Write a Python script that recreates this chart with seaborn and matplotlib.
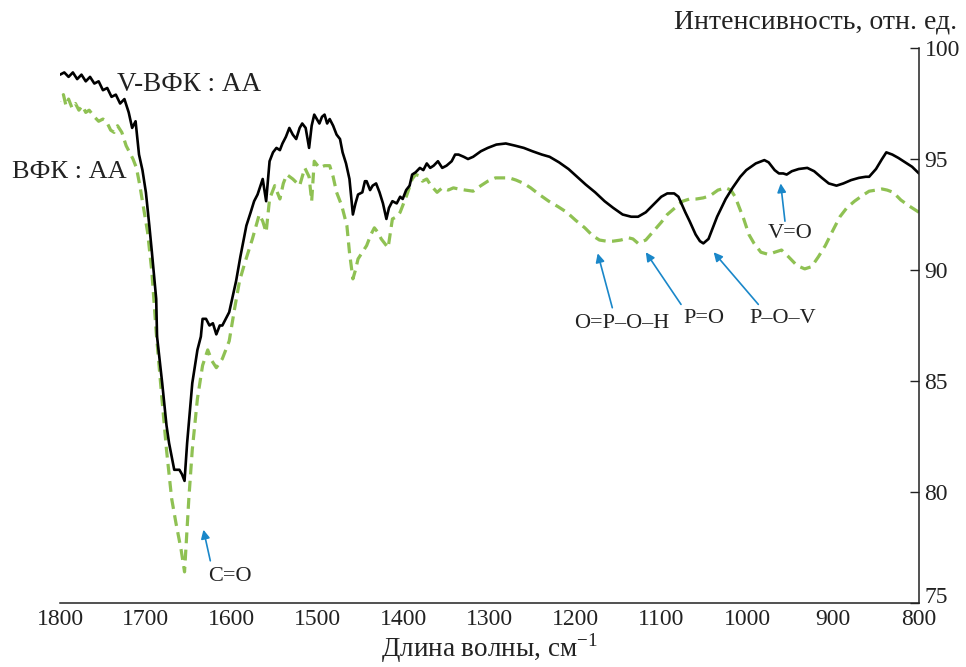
import numpy as np
import pandas as pd
import seaborn as sns
import matplotlib.pyplot as plt
import matplotlib.transforms as mtransforms

# --- 1. Dati ---
# V-ВФК : АА (linea nera)
wn_v = [1800, 1795, 1790, 1785, 1780, 1775, 1770, 1765, 1760, 1755, 1750, 1745, 1740, 1735, 1730,
        1725, 1720, 1716, 1712, 1708, 1704, 1700, 1696, 1693, 1688, 1687, 1681, 1676, 1673, 1667,
        1661, 1658, 1655, 1652, 1646, 1640, 1636, 1634, 1630, 1626, 1622, 1618, 1614, 1611, 1603,
        1595, 1590, 1583, 1578, 1574, 1570, 1564, 1560, 1556, 1552, 1548, 1544, 1541, 1537, 1533,
        1529, 1525, 1521, 1518, 1514, 1510, 1507, 1504, 1501, 1498, 1495, 1492, 1489, 1486, 1482,
        1478, 1474, 1471, 1467, 1463, 1459, 1456, 1453, 1448, 1445, 1443, 1439, 1436, 1432, 1428,
        1424, 1420, 1417, 1413, 1408, 1404, 1401, 1397, 1393, 1390, 1386, 1381, 1377, 1373, 1369,
        1365, 1360, 1355, 1350, 1344, 1340, 1336, 1330, 1325, 1319, 1310, 1302, 1292, 1281, 1270,
        1260, 1250, 1239, 1230, 1219, 1208, 1198, 1188, 1177, 1166, 1156, 1145, 1135, 1127, 1118,
        1109, 1100, 1093, 1085, 1080, 1072, 1067, 1060, 1055, 1051, 1045, 1040, 1035, 1025, 1017,
        1008, 1001, 990, 980, 975, 968, 963, 958, 954, 948, 940, 930, 922, 913, 905,
        896, 888, 879, 870, 862, 858, 850, 843, 838, 831, 824, 816, 808, 800]
int_v = [98.8, 98.9, 98.7, 98.9, 98.6, 98.8, 98.5, 98.7, 98.4, 98.5, 98.1, 98.2, 97.8, 97.9, 97.5,
         97.7, 97.1, 96.4, 96.7, 95.2, 94.5, 93.5, 92.0, 90.8, 88.7, 87.0, 84.9, 83.0, 82.2, 81.0,
         81.0, 80.8, 80.5, 82.2, 84.9, 86.4, 87.0, 87.8, 87.8, 87.5, 87.6, 87.1, 87.5, 87.5, 88.1,
         89.5, 90.6, 92.0, 92.6, 93.1, 93.4, 94.1, 93.1, 94.9, 95.3, 95.5, 95.4, 95.7, 96.0, 96.4,
         96.1, 95.9, 96.4, 96.6, 96.4, 95.5, 96.5, 97.0, 96.8, 96.6, 96.9, 97.0, 96.6, 96.8, 96.5,
         96.1, 95.9, 95.3, 94.8, 94.1, 92.5, 93.0, 93.4, 93.5, 94.0, 94.0, 93.6, 93.8, 93.9, 93.5,
         93.0, 92.3, 92.8, 93.1, 93.0, 93.3, 93.2, 93.6, 93.8, 94.3, 94.4, 94.6, 94.5, 94.8, 94.6,
         94.7, 94.9, 94.6, 94.7, 94.9, 95.2, 95.2, 95.1, 95.0, 95.1, 95.35, 95.5, 95.65, 95.7, 95.6,
         95.5, 95.35, 95.2, 95.1, 94.85, 94.55, 94.2, 93.85, 93.5, 93.1, 92.8, 92.5, 92.4, 92.4, 92.6,
         92.95, 93.3, 93.45, 93.45, 93.3, 92.6, 92.2, 91.6, 91.3, 91.2, 91.4, 91.9, 92.4, 93.2, 93.7,
         94.2, 94.5, 94.8, 94.95, 94.85, 94.5, 94.35, 94.35, 94.3, 94.45, 94.55, 94.6, 94.45, 94.15, 93.9,
         93.8, 93.9, 94.05, 94.15, 94.2, 94.2, 94.55, 95.0, 95.3, 95.2, 95.05, 94.85, 94.65, 94.35]

# ВФК : АА (linea verde tratteggiata)
wn_b = [1800, 1796, 1793, 1790, 1786, 1782, 1778, 1774, 1770, 1766, 1760, 1755, 1750, 1746, 1741,
        1737, 1733, 1728, 1723, 1719, 1715, 1711, 1707, 1704, 1698, 1693, 1688, 1682, 1676, 1670,
        1665, 1659, 1655, 1653, 1650, 1646, 1640, 1634, 1628, 1623, 1618, 1611, 1603, 1597, 1591,
        1585, 1576, 1568, 1564, 1560, 1556, 1550, 1544, 1540, 1536, 1529, 1521, 1515, 1510, 1507,
        1504, 1498, 1492, 1486, 1482, 1478, 1472, 1466, 1463, 1459, 1456, 1453, 1448, 1443, 1438,
        1434, 1430, 1426, 1422, 1418, 1413, 1408, 1404, 1400, 1396, 1390, 1386, 1382, 1378, 1373,
        1368, 1361, 1355, 1348, 1342, 1336, 1328, 1319, 1310, 1302, 1293, 1285, 1277, 1269, 1260,
        1252, 1242, 1231, 1220, 1210, 1200, 1189, 1180, 1172, 1164, 1156, 1147, 1138, 1133, 1127,
        1118, 1109, 1100, 1093, 1084, 1075, 1067, 1059, 1051, 1043, 1034, 1025, 1019, 1014, 1008,
        1004, 998, 992, 984, 975, 968, 960, 952, 942, 933, 925, 917, 909, 900, 892,
        884, 875, 866, 858, 850, 843, 837, 830, 821, 812, 804, 800]
int_b = [97.6, 97.9, 97.4, 97.7, 97.3, 97.5, 97.2, 97.4, 97.1, 97.2, 96.9, 96.7, 96.8, 96.7, 96.3,
         96.2, 96.5, 96.2, 95.6, 95.3, 95.0, 94.6, 93.8, 93.1, 91.7, 89.9, 87.2, 84.5, 81.9, 79.7,
         78.6, 77.4, 76.4, 77.7, 79.7, 81.9, 84.2, 85.7, 86.4, 85.9, 85.6, 86.0, 86.8, 88.2, 89.5,
         90.3, 91.4, 92.5, 92.2, 91.7, 93.2, 93.8, 93.2, 93.9, 94.3, 94.1, 93.8, 94.6, 94.2, 93.1,
         94.9, 94.6, 94.7, 94.7, 94.2, 93.5, 92.9, 92.0, 90.8, 89.6, 90.0, 90.5, 90.8, 91.1, 91.6,
         91.9, 91.7, 91.4, 91.2, 91.0, 92.3, 92.4, 92.6, 93.0, 93.4, 94.1, 94.3, 94.25, 94.0, 94.1,
         93.8, 93.5, 93.7, 93.6, 93.7, 93.65, 93.6, 93.55, 93.8, 94.0, 94.15, 94.15, 94.15, 94.05, 93.9,
         93.7, 93.4, 93.1, 92.85, 92.6, 92.25, 91.9, 91.55, 91.35, 91.3, 91.3, 91.35, 91.45, 91.4, 91.2,
         91.35, 91.75, 92.15, 92.5, 92.8, 93.1, 93.2, 93.2, 93.25, 93.35, 93.6, 93.7, 93.6, 93.3, 92.7,
         92.3, 91.6, 91.2, 90.8, 90.7, 90.8, 90.9, 90.6, 90.2, 90.05, 90.15, 90.6, 91.1, 91.8, 92.4,
         92.8, 93.1, 93.35, 93.55, 93.6, 93.65, 93.6, 93.5, 93.15, 92.9, 92.7, 92.6]

x_ticks = [1800, 1700, 1600, 1500, 1400, 1300, 1200, 1100, 1000, 900, 800]
y_ticks = [75, 80, 85, 90, 95, 100]

# Annotazioni: testo, posizione testo, coda freccia, punta freccia
ann_labels = ['C=O', 'O=P–O–H', 'P=O', 'P–O–V', 'V=O']
ann_text_xy = [(1602, 76.2), (1146, 87.6), (1050, 87.8), (959, 87.8), (950, 91.65)]
ann_tail_xy = [(1625, 76.9), (1157, 88.3), (1077, 88.45), (987, 88.45), (956, 92.2)]
ann_head_xy = [(1633, 78.3), (1174, 90.75), (1118, 90.8), (1039, 90.8), (961, 93.9)]

df_v = pd.DataFrame({'wn': wn_v, 'I': int_v})
df_b = pd.DataFrame({'wn': wn_b, 'I': int_b})

# --- 2. Stile ---
sns.set_theme(style="white")
plt.rcParams['font.family'] = ['Liberation Serif', 'DejaVu Serif']
plt.rcParams['mathtext.fontset'] = 'custom'
plt.rcParams['mathtext.rm'] = 'Liberation Serif'

fig = plt.figure(figsize=(9.66, 6.67), dpi=100)
ax = fig.add_axes([0.0621, 0.096, 0.8892, 0.832])

green = '#8fc153'
blue = '#1a87c9'
txt = '#222222'

# --- 3. Spettri ---
sns.lineplot(data=df_b, x='wn', y='I', ax=ax, color=green, lw=2.3,
             linestyle=(0, (3.4, 2.0)), estimator=None, errorbar=None)
sns.lineplot(data=df_v, x='wn', y='I', ax=ax, color='black', lw=1.9,
             estimator=None, errorbar=None)

# --- 4. Assi ---
ax.set_xlim(1800, 800)
ax.set_ylim(75, 100)
ax.set_xticks(x_ticks)
ax.set_yticks(y_ticks)
ax.yaxis.tick_right()
ax.tick_params(axis='both', direction='in', length=6.5, width=1.0,
               labelsize=17, colors=txt)
ax.tick_params(axis='x', pad=4)
ax.tick_params(axis='y', pad=4)
for side in ['top', 'left']:
    ax.spines[side].set_visible(False)
for side in ['bottom', 'right']:
    ax.spines[side].set_color(txt)
    ax.spines[side].set_linewidth(1.1)

# il "75" sta un po' piu' in alto, come nell'originale (non tocca "800")
lab75 = ax.get_yticklabels()[0]
lab75.set_transform(lab75.get_transform() +
                    mtransforms.ScaledTranslation(0, 6 / 72, fig.dpi_scale_trans))

ax.set_xlabel('Длина волны, см$^{-1}$', fontsize=19.5, color=txt, labelpad=1)
ax.set_ylabel('')
fig.text(957 / 966, 1 - 22 / 667, 'Интенсивность, отн. ед.', ha='right', va='center',
         fontsize=20, color=txt)

# Etichette delle curve
ax.text(1734, 98.35, 'V-ВФК : АА', ha='left', va='center', fontsize=19.5, color=txt)
ax.text(1856, 94.4, 'ВФК : АА', ha='left', va='center', fontsize=19, color=txt,
        clip_on=False)

# Frecce e bande
for lab, txy, tail, head in zip(ann_labels, ann_text_xy, ann_tail_xy, ann_head_xy):
    ax.annotate('', xy=head, xytext=tail,
                arrowprops=dict(arrowstyle='-|>', color=blue, lw=1.2,
                                mutation_scale=13, shrinkA=0, shrinkB=0))
    ax.text(txy[0], txy[1], lab, ha='center', va='center', fontsize=16, color=txt)

plt.savefig('out.png', dpi=100)
plt.close()
